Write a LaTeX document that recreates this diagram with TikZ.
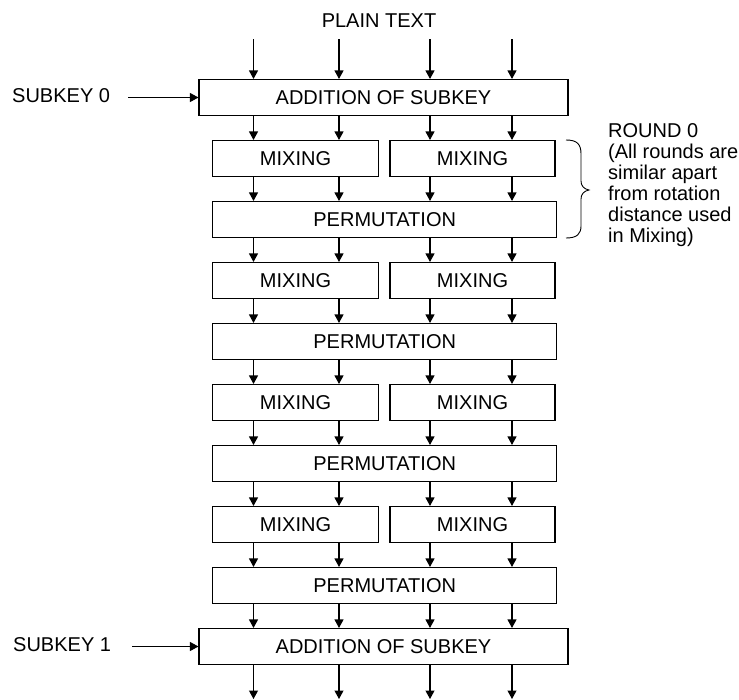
\documentclass[tikz,border=0pt]{standalone}
\usepackage{fontspec}
\setmainfont{Liberation Sans}
\usetikzlibrary{arrows.meta}
\begin{document}
\begin{tikzpicture}[x=1pt,y=-1pt,
  every node/.style={font=\fontsize{20}{21}\selectfont},
  blk/.style={draw,line width=1.1pt,minimum height=36pt,inner sep=0pt},
  arr/.style={line width=1.1pt,-{Triangle[length=8.5pt,width=9pt]}}]
\useasboundingbox (0,0) rectangle (739,699);
% columns
\coordinate (c1) at (253.5,0);
\coordinate (c2) at (339,0);
\coordinate (c3) at (430,0);
\coordinate (c4) at (512,0);
% texts
\node (plain) at (379,21) {PLAIN TEXT};
\node[anchor=west,inner sep=0pt] (sk0) at (12,96) {SUBKEY 0};
\node[anchor=west,inner sep=0pt] (sk1) at (13,645) {SUBKEY 1};
\node[anchor=north west,inner sep=0pt,align=left] (rnd) at (608,123)
  {ROUND 0\\(All rounds are\\similar apart\\from rotation\\distance used\\in Mixing)};
% boxes
\node[blk,minimum width=369pt] (add0) at (383.5,97.5) {ADDITION OF SUBKEY};
\node[blk,minimum width=369pt] (add1) at (383.5,646.5) {ADDITION OF SUBKEY};
\foreach \i/\ym/\yp in {1/158.5/219.5,2/280.5/341.5,3/402.5/463.5,4/524.5/585.5}{
  \node[blk,minimum width=166pt] (mL\i) at (295.5,\ym) {MIXING};
  \node[blk,minimum width=165pt] (mR\i) at (472.5,\ym) {MIXING};
  \node[blk,minimum width=344pt] (p\i) at (384.7,\yp) {PERMUTATION};
}
% key arrows
\coordinate (k0) at (128,97.5);
\coordinate (k1) at (132,646.5);
\draw[arr] (k0) -- (add0.west);
\draw[arr] (k1) -- (add1.west);
% top and bottom arrows
\foreach \c in {1,2,3,4}{
  \coordinate (top\c) at ([yshift=-39pt]c\c);
  \coordinate (bot\c) at ([yshift=-699pt]c\c);
  \draw[arr] (top\c) -- (c\c |- add0.north);
  \draw[arr] (c\c |- add1.south) -- (bot\c);
  \draw[arr] (c\c |- p4.south) -- (c\c |- add1.north);
}
% arrows between stages
\foreach \i in {1,2,3,4}{
  \draw[arr] (c1 |- mL\i.south) -- (c1 |- p\i.north);
  \draw[arr] (c2 |- mL\i.south) -- (c2 |- p\i.north);
  \draw[arr] (c3 |- mR\i.south) -- (c3 |- p\i.north);
  \draw[arr] (c4 |- mR\i.south) -- (c4 |- p\i.north);
}
\draw[arr] (c1 |- add0.south) -- (c1 |- mL1.north);
\draw[arr] (c2 |- add0.south) -- (c2 |- mL1.north);
\draw[arr] (c3 |- add0.south) -- (c3 |- mR1.north);
\draw[arr] (c4 |- add0.south) -- (c4 |- mR1.north);
\foreach \i/\j in {1/2,2/3,3/4}{
  \draw[arr] (c1 |- p\i.south) -- (c1 |- mL\j.north);
  \draw[arr] (c2 |- p\i.south) -- (c2 |- mL\j.north);
  \draw[arr] (c3 |- p\i.south) -- (c3 |- mR\j.north);
  \draw[arr] (c4 |- p\i.south) -- (c4 |- mR\j.north);
}
% brace
\draw[line width=0.9pt] (566,140) .. controls (577,140) and (581,144) .. (581,154)
  -- (581,181) .. controls (581,186) and (584,189) .. (589,190)
  .. controls (584,191) and (581,194) .. (581,199)
  -- (581,226) .. controls (581,234) and (577,238) .. (566,238);
\end{tikzpicture}
\end{document}
